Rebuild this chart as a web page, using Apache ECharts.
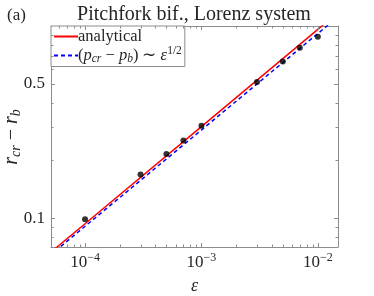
<!DOCTYPE html>
<html><head><meta charset="utf-8">
<script src="https://cdn.jsdelivr.net/npm/echarts@6/dist/echarts.min.js"></script>
<style>html,body{margin:0;padding:0;background:#fff}#c{width:374px;height:296px}</style>
</head><body><div id="c"></div>
<script>
// ---- data ----
const epsPoints = [1e-4, 3e-4, 5e-4, 7e-4, 1e-3, 3e-3, 5e-3, 7e-3, 1e-2];
const rPoints   = [0.099, 0.169, 0.216, 0.254, 0.303, 0.512, 0.653, 0.770, 0.879];
const epsAnalytical = [5e-5, 1e-4, 1e-3, 1e-2, 1.5e-2];
const rAnalytical   = [0.0662, 0.0938, 0.300, 0.960, 1.179];
const epsFit = [5e-5, 1e-4, 1e-3, 1e-2, 1.5e-2];
const rFit   = [0.0643, 0.091, 0.288, 0.914, 1.12];
const xMajorTicks = [1e-4, 1e-3, 1e-2];
const xMinorTicks = [6e-5, 7e-5, 8e-5, 9e-5, 2e-4, 3e-4, 4e-4, 5e-4, 6e-4, 7e-4, 8e-4, 9e-4,
                     2e-3, 3e-3, 4e-3, 5e-3, 6e-3, 7e-3, 8e-3, 9e-3];
const yMajorTicks = [0.1, 0.5];
const yMinorTicks = [0.08, 0.09, 0.2, 0.3, 0.4, 0.6, 0.7, 0.8, 0.9];
const xRange = [5.1e-5, 1.49e-2];
const yRange = [0.071, 1.0];

const L = Math.log10;
const FONT = 'Liberation Serif';
const AX = '#8c8c8c';
const TXT = '#262626';
const pairs = (xs, ys) => xs.map((x, i) => [L(x), L(ys[i])]);

function axisBase(range, pos) {
  return {
    type: 'value', position: pos, min: L(range[0]), max: L(range[1]),
    splitLine: { show: false },
    axisLine: { show: true, onZero: false, lineStyle: { color: AX, width: 1 } },
    axisTick: { show: false },
    axisLabel: { show: false }
  };
}

const xA = [axisBase(xRange, 'bottom'), axisBase(xRange, 'top')];
xA[0].axisLabel = {
  show: true, customValues: xMajorTicks.map(L), margin: 5, color: TXT, fontFamily: FONT,
  formatter: v => '{b|10}{s|\u2212' + (-Math.round(v)) + '}',
  rich: { b: { fontSize: 17, fontFamily: FONT, color: TXT },
          s: { fontSize: 12, fontFamily: FONT, color: TXT, padding: [0, 0, 10, 0] } }
};
xA[0].name = '{i|\u03b5}';
xA[0].nameLocation = 'middle';
xA[0].nameGap = 30;
xA[0].nameTextStyle = { rich: { i: { fontSize: 18, fontStyle: 'italic', fontFamily: FONT, color: TXT } } };

const yA = [axisBase(yRange, 'left'), axisBase(yRange, 'right')];
yA[0].axisLabel = {
  show: true, customValues: yMajorTicks.map(L), margin: 6, color: TXT, fontFamily: FONT, fontSize: 17,
  formatter: v => String(Math.round(Math.pow(10, v) * 10) / 10)
};

// tick marks drawn through the axes' own coordinate mapping
function tickSeries(values, dir, len) {
  return {
    type: 'custom', xAxisIndex: 0, yAxisIndex: 0, silent: true, clip: false, z: 6,
    data: values.map(v => dir === 'x' ? [L(v), L(yRange[0])] : [L(xRange[0]), L(v)]),
    renderItem: (params, api) => {
      const st = { stroke: AX, lineWidth: 1, fill: null };
      if (dir === 'x') {
        const v = api.value(0);
        const b = api.coord([v, L(yRange[0])]);
        const t = api.coord([v, L(yRange[1])]);
        const x = Math.round(b[0]) + 0.5;
        return { type: 'group', children: [
          { type: 'line', shape: { x1: x, y1: b[1], x2: x, y2: b[1] - len }, style: st },
          { type: 'line', shape: { x1: x, y1: t[1], x2: x, y2: t[1] + len }, style: st }
        ] };
      } else {
        const v = api.value(1);
        const l = api.coord([L(xRange[0]), v]);
        const r = api.coord([L(xRange[1]), v]);
        const y = Math.round(l[1]) + 0.5;
        return { type: 'group', children: [
          { type: 'line', shape: { x1: l[0], y1: y, x2: l[0] + len, y2: y }, style: st },
          { type: 'line', shape: { x1: r[0], y1: y, x2: r[0] - len, y2: y }, style: st }
        ] };
      }
    }
  };
}

const chart = echarts.init(document.getElementById('c'), null, { renderer: 'canvas' });
chart.setOption({
  animation: false,
  backgroundColor: '#fff',
  title: [
    { text: 'Pitchfork bif., Lorenz system', left: 189, top: 0, textAlign: 'center',
      textStyle: { fontFamily: FONT, fontSize: 20, fontWeight: 'normal', color: TXT } },
    { text: '(a)', left: 2, top: 2,
      textStyle: { fontFamily: FONT, fontSize: 17, fontWeight: 'normal', color: TXT } }
  ],
  graphic: [{
    type: 'text', x: 12, y: 137, rotation: Math.PI / 2, silent: true,
    style: {
      text: '{i|r}{sub|cr}{n| \u2212 }{i|r}{sub|b}',
      align: 'center', verticalAlign: 'middle', fill: TXT,
      rich: {
        i: { fontSize: 20, fontStyle: 'italic', fontFamily: FONT, fill: TXT },
        n: { fontSize: 20, fontFamily: FONT, fill: TXT },
        sub: { fontSize: 14, fontStyle: 'italic', fontFamily: FONT, fill: TXT, padding: [9, 0, 0, 0] }
      }
    }
  }],
  grid: { left: 51, right: 36, top: 26, bottom: 49, containLabel: false, outerBoundsMode: 'none' },
  xAxis: xA,
  yAxis: yA,
  legend: {
    data: ['analytical', 'fit'],
    left: 51, top: 26, orient: 'vertical',
    backgroundColor: '#fff', borderColor: AX, borderWidth: 1, borderRadius: 0,
    padding: [2, 3, 2, 2], itemWidth: 24, itemHeight: 10, itemGap: 0,
    itemStyle: { opacity: 0 },
    formatter: name => name === 'analytical' ? '{n|analytical}' :
      '{n|(}{i|p}{sub|cr}{n| \u2212 }{i|p}{sub|b}{n|) \u223c }{i|\u03b5}{sup|1/2}',
    textStyle: { padding: [0, 0, 0, -5], rich: {
      n: { fontSize: 16.5, fontFamily: FONT, color: TXT },
      i: { fontSize: 16.5, fontStyle: 'italic', fontFamily: FONT, color: TXT },
      sub: { fontSize: 11.5, fontStyle: 'italic', fontFamily: FONT, color: TXT, padding: [6, 0, 0, 0] },
      sup: { fontSize: 11.5, fontFamily: FONT, color: TXT, padding: [0, 0, 9, 0] }
    } }
  },
  series: [
    tickSeries(xMajorTicks, 'x', 4),
    tickSeries(xMinorTicks, 'x', 2.5),
    tickSeries(yMajorTicks, 'y', 4),
    tickSeries(yMinorTicks, 'y', 2.5),
    { name: 'fit', type: 'line', xAxisIndex: 0, yAxisIndex: 0, data: pairs(epsFit, rFit),
      symbol: 'none', clip: true, lineStyle: { color: '#0000ff', width: 1.5, type: [4, 3] },
      itemStyle: { color: '#0000ff' }, z: 3 },
    { name: 'analytical', type: 'line', xAxisIndex: 0, yAxisIndex: 0, data: pairs(epsAnalytical, rAnalytical),
      symbol: 'none', clip: true, lineStyle: { color: '#ff0000', width: 1.5 },
      itemStyle: { color: '#ff0000' }, z: 4 },
    { name: 'data', type: 'scatter', xAxisIndex: 0, yAxisIndex: 0, data: pairs(epsPoints, rPoints),
      symbol: 'circle', symbolSize: 6, itemStyle: { color: '#000' }, z: 5 }
  ]
});
</script></body></html>
